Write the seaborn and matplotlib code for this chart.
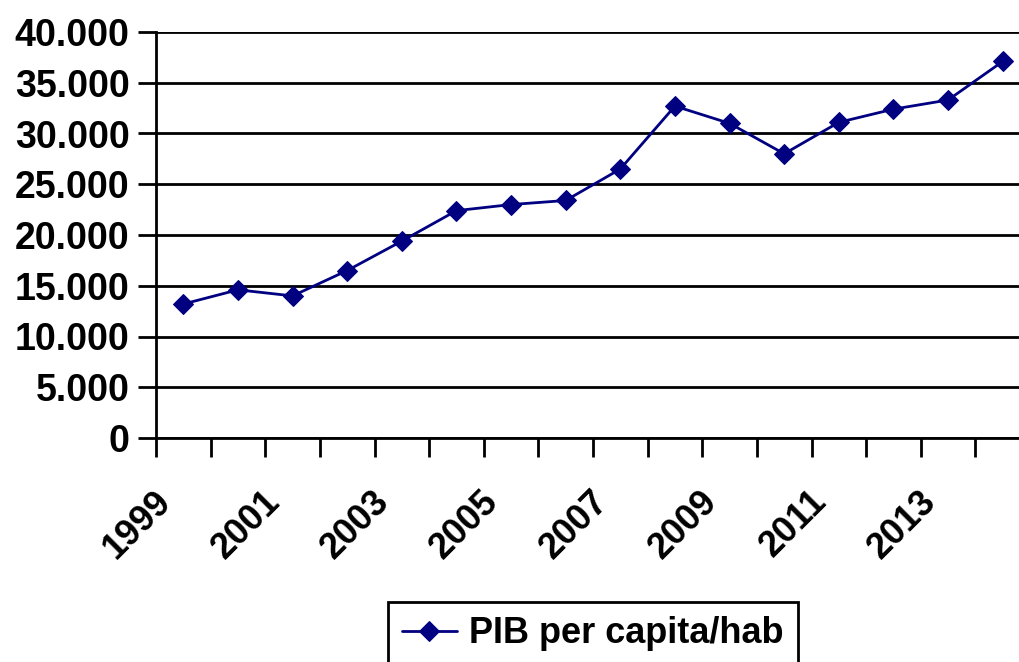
"""
PIB per capita/hab, 1999-2014
"""
import matplotlib
matplotlib.use("Agg")
import matplotlib.pyplot as plt
import matplotlib.ticker as mticker
import matplotlib.transforms as mtransforms
import seaborn as sns
import pandas as pd

years = list(range(1999, 2015))
pib = [13200, 14600, 14000, 16500, 19400, 22400, 23000, 23400,
       26500, 32700, 31000, 28000, 31100, 32400, 33300, 37100]
label_years = [1999, 2001, 2003, 2005, 2007, 2009, 2011, 2013]
series_name = "PIB per capita/hab"

df = pd.DataFrame({"year": years, "pib": pib})

sns.set_style("white")
plt.rcParams["font.family"] = ["Liberation Sans", "DejaVu Sans"]
plt.rcParams["font.weight"] = "bold"
plt.rcParams["text.color"] = "black"
plt.rcParams["xtick.color"] = "black"
plt.rcParams["ytick.color"] = "black"

fig = plt.figure(figsize=(10.19, 6.62), dpi=100)
# el area de trazado se sale por la derecha, como en el original
ax = fig.add_axes([156 / 1019, 1 - 438 / 662, 874 / 1019, (438 - 32) / 662])

sns.lineplot(data=df, x="year", y="pib", ax=ax, color="#000080", lw=2,
             marker="D", markersize=10, markeredgecolor="#000080",
             label=series_name, legend=False)

ax.set_xlim(years[0] - 0.5, years[-1] + 0.5)
ax.set_ylim(0, 40000)
ax.yaxis.set_major_locator(mticker.MultipleLocator(5000))
ax.yaxis.set_major_formatter(mticker.FuncFormatter(
    lambda v, p: f"{int(v):,}".replace(",", ".")))
ax.grid(axis="y", color="black", lw=2)
ax.set_axisbelow(True)
ax.get_ygridlines()[-1].set_color("#808080")

# marcas entre categorias, etiquetas cada dos anos
ax.xaxis.set_minor_locator(mticker.FixedLocator([y - 0.5 for y in years]))
ax.set_xticks(label_years)
ax.set_xticklabels([str(y) for y in label_years], rotation=45, ha="right",
                   rotation_mode="anchor", fontweight="bold")
ax.tick_params(axis="x", which="major", length=0, labelsize=26, pad=33)
ax.tick_params(axis="x", which="minor", length=14, width=2, color="black",
               direction="out", bottom=True)
ax.tick_params(axis="y", length=13, width=2, color="black", direction="out",
               left=True, labelsize=27, pad=6)
for lbl in ax.get_yticklabels():
    lbl.set_fontweight("bold")
offset = mtransforms.ScaledTranslation(-30 / 100, 0, fig.dpi_scale_trans)
for lbl in ax.get_xticklabels():
    lbl.set_transform(lbl.get_transform() + offset)

for side in ["top", "right"]:
    ax.spines[side].set_visible(False)
for side in ["left", "bottom"]:
    ax.spines[side].set_color("black")
    ax.spines[side].set_linewidth(2)

ax.set_xlabel("")
ax.set_ylabel("")

handles, labels = ax.get_legend_handles_labels()
leg = fig.legend(handles, labels, loc="upper center",
                 bbox_to_anchor=(593 / 1019, 1 - 602 / 662),
                 borderaxespad=0, prop={"size": 26, "weight": "bold"},
                 frameon=True, fancybox=False, framealpha=1,
                 handlelength=1.5, handletextpad=0.35, borderpad=0.4)
leg.get_frame().set_edgecolor("black")
leg.get_frame().set_linewidth(2)

fig.savefig("out.png", dpi=100)
